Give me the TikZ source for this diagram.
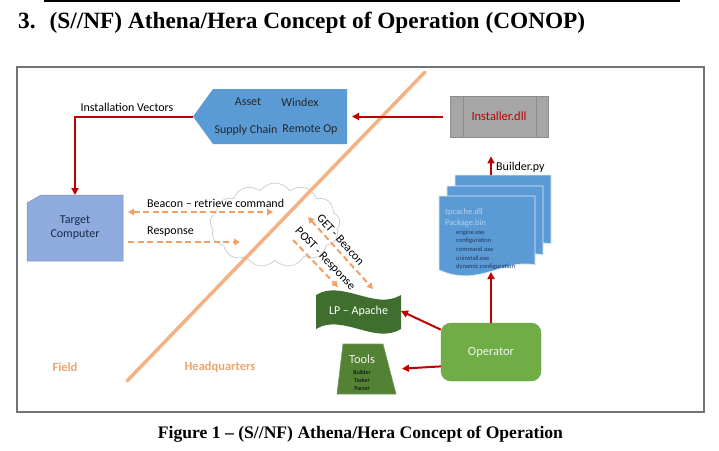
\documentclass[tikz,border=0pt]{standalone}
\usepackage{fontspec}
\usepackage{graphicx}
\setmainfont{Carlito}
\newfontfamily\titlefont{Liberation Serif}
\usetikzlibrary{arrows.meta,shapes.symbols}
\definecolor{redarr}{HTML}{C00000}
\definecolor{diag}{HTML}{F4B183}
\definecolor{dashor}{HTML}{F2A065}
\definecolor{hexblue}{HTML}{5B9BD5}
\definecolor{tcblue}{HTML}{8FAADC}
\definecolor{opgreen}{HTML}{70AD47}
\definecolor{lpgreen}{HTML}{3F6E2E}
\definecolor{toolgreen}{HTML}{548235}
\definecolor{instgray}{HTML}{A6A6A6}
\definecolor{navy}{HTML}{1F3864}
\definecolor{lightdoc}{HTML}{B4CFEC}
\definecolor{fieldor}{HTML}{EFA46C}
\begin{document}
\begin{tikzpicture}[x=1pt,y=-1pt,
  lbl/.style={font=\fontsize{12}{14}\selectfont, inner sep=0pt},
  ghost/.style={inner sep=0pt, outer sep=0pt},
  redarrow/.style={draw=redarr, line width=2pt, -{Triangle[length=7pt,width=7pt]}},
  dasharrow/.style={draw=dashor, line width=2pt, dash pattern=on 6pt off 3.5pt, -{Triangle[length=6pt,width=6.5pt]}},
  dasharrows/.style={dasharrow, {Triangle[length=6pt,width=6.5pt]}-{Triangle[length=6pt,width=6.5pt]}},
  docpage/.style={fill=hexblue, draw=white!80!hexblue, line width=0.8pt},
  docsheet/.pic={\path[docpage] (0,0) -- (96,0) -- (96,69) .. controls (65,62) and (40,92) .. (0,74) -- cycle;},
]
\useasboundingbox (0,0) rectangle (719,450);
\fill[white] (0,0) rectangle (719,450);
% heading and caption
\draw[line width=1.4pt] (44,1) -- (680,1);
\node[anchor=base west, inner sep=0] (title) at (18,28) {\resizebox{567pt}{!}{\titlefont\fontsize{22}{26}\selectfont\bfseries 3.\hspace{0.6em}(S//NF) Athena/Hera Concept of Operation (CONOP)}};
\node[anchor=base, inner sep=0] (caption) at (360.5,438) {\resizebox{405pt}{!}{\titlefont\fontsize{17}{20}\selectfont\bfseries Figure 1 – (S//NF) Athena/Hera Concept of Operation}};
% frame
\draw[draw=black!55, line width=1.3pt] (17,67) rectangle (704,412);
% cloud
\node[cloud, cloud puffs=13, cloud puff arc=110, aspect=1.55, draw=black!18, fill=white, line width=0.8pt, minimum width=130pt, minimum height=84pt, inner sep=0] (cloud) at (275,225) {};
% field / HQ divider
\draw[diag, line width=3.5pt, line cap=round] (425,72) -- (127,381);
\node[font=\bfseries\fontsize{12.5}{14}\selectfont, text=fieldor, inner sep=0] (field) at (65,367) {Field};
\node[font=\bfseries\fontsize{12.5}{14}\selectfont, text=fieldor, inner sep=0] (hq) at (220,367) {Headquarters};
% asset / windex pentagon
\fill[hexblue] (193,116.5) -- (213,89) -- (347,89) -- (347,144) -- (213,144) -- cycle;
\node[ghost, minimum width=154pt, minimum height=55pt] (hex) at (270,116.5) {};
\node[lbl, text=black!85] (asset) at (248,102) {Asset};
\node[lbl, text=black!85] (windex) at (300,102) {Windex};
\node[lbl, text=black!85] (supply) at (246,130) {Supply Chain};
\node[lbl, text=black!85] (remote) at (310,130) {Remote Op};
% installer
\node[draw=black!45, fill=instgray, line width=0.8pt, minimum width=98pt, minimum height=41pt, inner sep=0, text=redarr, font=\fontsize{12.5}{14}\selectfont] (inst) at (499,116.5) {Installer.dll};
\draw[black!45, line width=0.8pt] (463,96) -- (463,137) (536,96) -- (536,137);
% document stack
\pic at (455,175) {docsheet};
\pic at (447,186) {docsheet};
\pic at (439,196) {docsheet};
\node[ghost, minimum width=113pt, minimum height=97pt] (stack) at (495.5,223.5) {};
\node[anchor=west, inner sep=0, font=\fontsize{8.5}{9}\selectfont, text=lightdoc] (dll) at (445,212) {tpcache.dll};
\node[anchor=west, inner sep=0, font=\fontsize{8.5}{9}\selectfont, text=lightdoc] (pkg) at (445,223) {Package.bin};
\node[anchor=north west, inner sep=0, font=\fontsize{6.5}{8.7}\selectfont, text=navy, align=left] (files) at (456,229.5) {engine.exe\\configuration\\command.exe\\uninstall.exe\\dynamic configuration};
% operator
\node[fill=opgreen, draw=opgreen!90!black, rounded corners=10pt, minimum width=100pt, minimum height=58pt, inner sep=0, text=white!88!opgreen, font=\fontsize{12.5}{14}\selectfont] (op) at (491,352) {Operator};
% LP - Apache
\fill[lpgreen] (316,295) .. controls (342,279) and (375,311) .. (401,295) -- (401,329) .. controls (375,345) and (342,313) .. (316,329) -- cycle;
\node[ghost, minimum width=85pt, minimum height=38pt, text=white, font=\fontsize{12}{14}\selectfont] (lp) at (358.5,311) {LP – Apache};
% tools
\filldraw[fill=toolgreen, draw=toolgreen!80!white, line width=0.6pt] (343,344) -- (383,344) -- (396,394) -- (337,394) -- cycle;
\node[ghost, minimum width=59pt, minimum height=50pt] (tools) at (366.5,369) {};
\node[inner sep=0, font=\fontsize{12.5}{14}\selectfont, text=white!88!toolgreen] (toolst) at (362,359) {Tools};
\node[inner sep=0, font=\fontsize{6}{8}\selectfont, text=black, align=center] (toolsub) at (362,380) {Builder\\Tasker\\Parser};
% target computer
\filldraw[fill=tcblue, draw=tcblue!85!black, line width=0.5pt] (41,195) -- (123,195) -- (123,261) -- (27,261) -- (27,203) -- cycle;
\node[ghost, minimum width=96pt, minimum height=66pt, align=center, font=\fontsize{12}{14}\selectfont, text=navy!75!black] (tc) at (75,228) {Target\\Computer};
% red connectors
\draw[redarrow] (hex.west) -| (tc.north);
\node[lbl] (instvec) at (127,107) {Installation Vectors};
\draw[redarrow, shorten <=7pt, shorten >=5pt] (inst.west) -- (hex.east);
\draw[redarrow, shorten >=19pt] (stack.north -| op.north) -- (inst.south -| op.north);
\node[lbl, anchor=west] (builder) at (496,167) {Builder.py};
\draw[redarrow] (op.north) -- (op.north |- stack.south);
\draw[redarrow] (op.156) -- (lp.east);
\draw[redarrow, shorten >=6pt] (op.196) -- (tools.east);
% dashed orange connectors
\coordinate (beaconL) at (128,212);
\coordinate (beaconR) at (273,212);
\coordinate (respL) at (128,242);
\coordinate (respR) at (240,242);
\coordinate (getT) at (308,217);
\coordinate (getB) at (373,289);
\coordinate (postT) at (293,240);
\coordinate (postB) at (338,287);
\draw[dasharrows] (beaconL) -- (beaconR);
\node[lbl, anchor=west] (beaconlbl) at (147,203) {Beacon – retrieve command};
\draw[dasharrow] (respL) -- (respR);
\node[lbl, anchor=west] (resplbl) at (147,232) {Response};
\draw[dasharrows] (getT) -- (getB) node[pos=0.4, sloped, above=4pt, lbl] (getlbl) {GET - Beacon};
\draw[dasharrow] (postT) -- (postB) node[pos=0.55, sloped, above=4pt, lbl] (postlbl) {POST - Response};
\end{tikzpicture}
\end{document}
